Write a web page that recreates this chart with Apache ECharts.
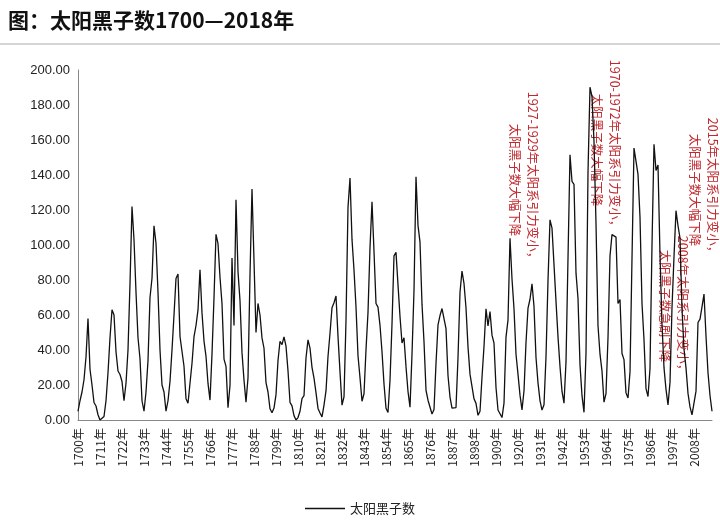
<!DOCTYPE html>
<html><head><meta charset="utf-8">
<script src="https://cdn.jsdelivr.net/npm/echarts@6/dist/echarts.min.js"></script>
<style>html,body{margin:0;padding:0;background:#fff}#c{width:720px;height:528px}</style>
</head><body><div id="c"></div>
<script>
const startYear = 1700;
const sunspots = [
5,11,16,23,36,58,29,20,10,8,
3,0,0,2,11,27,47,63,60,39,
28,26,22,11,21,40,78,122,103,73,
47,35,11,5,16,34,70,81,111,101,
73,40,20,16,5,11,22,40,60,80.9,
83.4,47.7,47.8,30.7,12.2,9.6,10.2,32.4,47.6,54,
62.9,85.9,61.2,45.1,36.4,20.9,11.4,37.8,69.8,106.1,
100.8,81.6,66.5,34.8,30.6,7,19.8,92.5,54,125.9,
84.8,68.1,38.5,22.8,10.2,24.1,82.9,132,130.9,50,
66.6,60,46.9,41,21.3,16,6.4,4.1,6.8,14.5,
34,45,43.1,47.5,42.2,28.1,10.1,8.1,2.5,0,
1.4,5,12.2,13.9,35.4,45.8,41.1,30.1,23.9,15.6,
6.6,4,1.8,8.5,16.6,36.3,49.6,64.2,67,70.9,
47.8,27.5,8.5,13.2,56.9,121.5,138.3,103.2,85.7,64.6,
36.7,24.2,10.7,15,40.1,61.5,98.5,124.7,96.3,66.6,
64.5,54.1,39,20.6,6.7,4.3,22.7,54.8,93.8,95.8,
77.2,59.1,44,47,30.5,16.3,7.3,37.6,74,139,
111.2,101.6,66.2,44.7,17,11.3,12.4,3.4,6,32.3,
54.3,59.7,63.7,63.5,52.2,25.4,13.1,6.8,6.3,7.1,
35.6,73,85.1,78,64,41.8,26.2,26.7,12.1,9.5,
2.7,5,24.4,42,63.5,53.8,62,48.5,43.9,18.6,
5.7,3.6,1.4,9.6,47.4,57.1,103.9,80.6,63.6,37.6,
26.1,14.2,5.8,16.7,44.3,63.9,69,77.8,64.9,35.7,
21.2,11.1,5.7,8.7,36.1,79.7,114.4,109.6,88.8,67.8,
47.5,30.6,16.3,9.6,33.2,92.6,151.6,136.3,134.7,83.9,
69.4,31.5,13.9,4.4,38,141.7,190.2,184.8,159,112.3,
53.9,37.6,27.9,10.2,15.1,47,93.8,105.9,105.5,104.5,
66.6,68.9,38,34.5,15.5,12.6,27.5,92.5,155.4,154.6,
140.4,115.9,66.6,45.9,17.9,13.4,29.4,100.2,157.6,142.6,
145.7,94.3,54.6,29.9,17.5,8.6,21.5,64.3,93.3,119.6,
111,104,63.7,40.4,29.8,15.2,7.5,2.9,3.1,16.5,
55.7,57.6,64.7,72,48,27,14,5
];
const years = sunspots.map((v,i)=>(startYear+i)+'年');
const seriesName = '太阳黑子数';
const yTicks = {min:0,max:200,interval:20};
const notes = [
  ['1927-1929年太阳系引力变小，','太阳黑子数大幅下降',533,515,178,180],
  ['1970-1972年太阳系引力变小，','太阳黑子数大幅下降',615,597,146,150],
  ['2008年太阳系引力变小，','太阳黑子数急剧下降',683,665,306,306],
  ['2015年太阳系引力变小，','太阳黑子数大幅下降',713,695,188,190]
];
const graphics = [{type:'text',left:8,top:10,style:{text:'图：太阳黑子数1700—2018年',font:'bold 21px "Noto Sans CJK SC"',fill:'#111'}},
 {type:'line',shape:{x1:0,y1:44,x2:720,y2:44},style:{stroke:'#aaa',lineWidth:1}}];
notes.forEach(n=>{
  [[n[0],n[2],n[4]],[n[1],n[3],n[5]]].forEach(t=>{
    graphics.push({type:'text',x:t[1],y:t[2],rotation:-Math.PI/2,style:{text:t[0],font:'12.5px "Noto Sans CJK SC"',fill:'#c0282d',align:'center',verticalAlign:'middle'}});
  });
});
const chart = echarts.init(document.getElementById('c'));
chart.setOption({
  animation:false,
  grid:{left:78,right:8,top:70,bottom:108},
  graphic:graphics,
  legend:{bottom:8,left:'center',data:[seriesName],icon:'path://M0,0L40,0L40,1.5L0,1.5Z',itemWidth:40,itemHeight:2,textStyle:{fontFamily:'Noto Sans CJK SC',fontSize:13,color:'#222'}},
  xAxis:{type:'category',data:years,boundaryGap:false,
    axisLine:{lineStyle:{color:'#888'}},axisTick:{show:false},
    axisLabel:{interval:10,rotate:90,fontFamily:'Noto Sans CJK SC',fontSize:12,color:'#222'}},
  yAxis:{type:'value',min:yTicks.min,max:yTicks.max,interval:yTicks.interval,
    splitLine:{show:false},axisLine:{show:true,lineStyle:{color:'#888'}},
    axisLabel:{formatter:v=>v.toFixed(2),fontFamily:'Liberation Sans',fontSize:13,color:'#222'}},
  series:[{name:seriesName,type:'line',data:sunspots,showSymbol:false,itemStyle:{color:'#111'},lineStyle:{color:'#111',width:1.3}}]
});
</script></body></html>
